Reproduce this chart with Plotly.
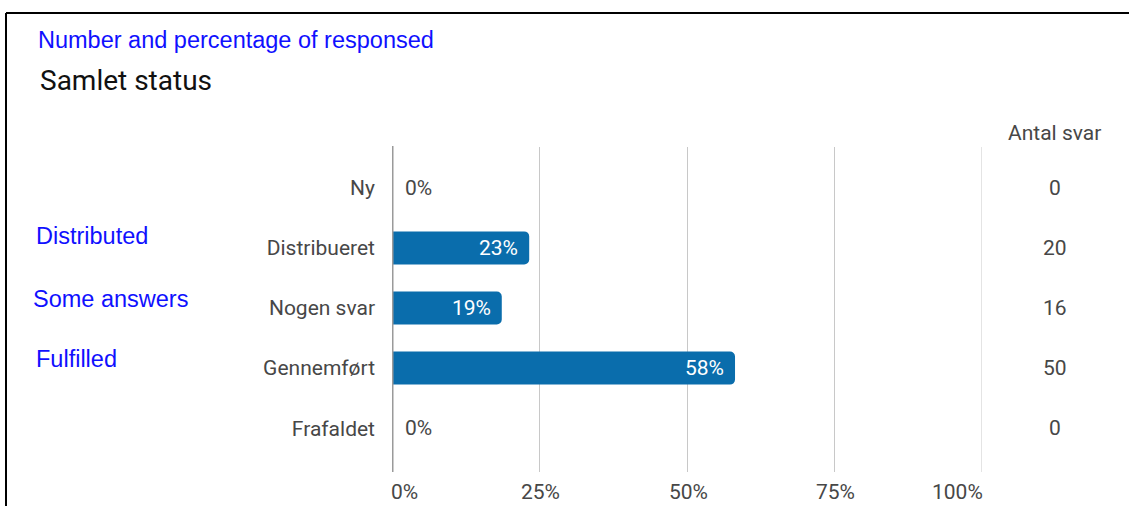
import plotly.graph_objects as go

# ---- data ----
categories = ["Ny", "Distribueret", "Nogen svar", "Gennemført", "Frafaldet"]
counts = [0, 20, 16, 50, 0]
x_ticks = [0, 25, 50, 75, 100]
x_tick_labels = ["0%", "25%", "50%", "75%", "100%"]
count_header = "Antal svar"
title_blue = "Number and percentage of responsed"
title_main = "Samlet status"
side_notes = ["Distributed", "Some answers", "Fulfilled"]
side_note_rows = ["Distribueret", "Nogen svar", "Gennemført"]

total = sum(counts)
percents = [c / total * 100 for c in counts]
pct_labels = [f"{round(p)}%" for p in percents]

# ---- layout geometry ----
W, H = 1129, 506
L, R, T, B = 392, 982, 147, 472  # plot area in pixels


def px(x):
    return (x - L) / (R - L)


def py(y):
    return (B - y) / (B - T)


BAR = "#0a6dac"
GRAY = "#474747"
ROBOTO = "Roboto"
ARIAL = "Liberation Sans, Arial"
FS = 21

fig = go.Figure()
fig.add_trace(go.Bar(
    y=categories,
    x=percents,
    orientation="h",
    marker=dict(color=BAR, cornerradius=5, line=dict(width=0)),
    width=0.55,
    hoverinfo="skip",
))

annotations = []
# bar value labels
for cat, p, lab in zip(categories, percents, pct_labels):
    if p > 0:
        annotations.append(dict(x=p, y=cat, xref="x", yref="y", text=lab,
                                showarrow=False, xanchor="right", xshift=-9,
                                font=dict(family=ROBOTO, size=FS, color="white")))
    else:
        annotations.append(dict(x=p, y=cat, xref="x", yref="y", text=lab,
                                showarrow=False, xanchor="left", xshift=11,
                                font=dict(family=ROBOTO, size=FS, color=GRAY)))
# counts column
for cat, c in zip(categories, counts):
    annotations.append(dict(x=px(1055), y=cat, xref="paper", yref="y", text=str(c),
                            showarrow=False, xanchor="center",
                            font=dict(family=ROBOTO, size=FS, color=GRAY)))
annotations.append(dict(x=px(1054), y=py(133), xref="paper", yref="paper",
                        text=count_header, showarrow=False, xanchor="center",
                        yanchor="middle",
                        font=dict(family=ROBOTO, size=FS, color=GRAY)))
# x tick labels with edge alignment
for i, (v, lab) in enumerate(zip(x_ticks, x_tick_labels)):
    anchor = "left" if i == 0 else ("right" if i == len(x_ticks) - 1 else "center")
    shift = -3 if i == 0 else (3 if i == len(x_ticks) - 1 else 1)
    annotations.append(dict(x=v, y=py(492), xref="x", yref="paper", text=lab,
                            showarrow=False, xanchor=anchor, yanchor="middle",
                            xshift=shift,
                            font=dict(family=ROBOTO, size=FS, color=GRAY)))
# titles
annotations.append(dict(x=px(36), y=py(40), xref="paper", yref="paper",
                        text=title_blue, showarrow=False, xanchor="left",
                        yanchor="middle",
                        font=dict(family=ARIAL, size=23.5, color="#1010ff")))
annotations.append(dict(x=px(38), y=py(80), xref="paper", yref="paper",
                        text=title_main, showarrow=False, xanchor="left",
                        yanchor="middle",
                        font=dict(family=ROBOTO, size=28, color="#111111")))
# blue side notes
note_x = [34, 31, 34]
for note, row, nx in zip(side_notes, side_note_rows, note_x):
    annotations.append(dict(x=px(nx), y=row, xref="paper", yref="y",
                            text=note, showarrow=False, xanchor="left",
                            yshift=12 if row == "Distribueret" else 9,
                            font=dict(family=ARIAL, size=23.5, color="#1010ff")))

shapes = [
    # frame
    dict(type="line", xref="paper", yref="paper", x0=px(6), x1=px(1129),
         y0=py(13), y1=py(13), line=dict(color="black", width=2)),
    dict(type="line", xref="paper", yref="paper", x0=px(6), x1=px(6),
         y0=py(13), y1=py(506), line=dict(color="black", width=2)),
    # last gridline at the range edge
    dict(type="line", xref="x", yref="paper", x0=x_ticks[-1], x1=x_ticks[-1],
         y0=0, y1=1, line=dict(color="#c8c8c8", width=1), layer="below"),
    # zero line
    dict(type="line", xref="x", yref="paper", x0=0, x1=0, y0=0, y1=1.003,
         line=dict(color="#9a9a9a", width=3)),
]

fig.update_layout(
    width=W, height=H, autosize=False,
    margin=dict(l=L, r=W - R, t=T, b=H - B, pad=0),
    paper_bgcolor="white", plot_bgcolor="white",
    showlegend=False,
    xaxis=dict(range=[0, 100], tickvals=x_ticks, showticklabels=False,
               showgrid=True, gridcolor="#c8c8c8", gridwidth=1,
               zeroline=False, showline=False, fixedrange=True),
    yaxis=dict(categoryorder="array", categoryarray=categories,
               range=[4.73, -0.68], showgrid=False, zeroline=False,
               showline=False, ticks="", ticklabelstandoff=16,
               tickfont=dict(family=ROBOTO, size=FS, color=GRAY),
               fixedrange=True),
    annotations=annotations,
    shapes=shapes,
    font=dict(family=ROBOTO),
)

fig.write_html(
    "out.html",
    config={"displayModeBar": False},
    post_script="document.body.style.margin='0';document.body.style.overflow='hidden';",
)
